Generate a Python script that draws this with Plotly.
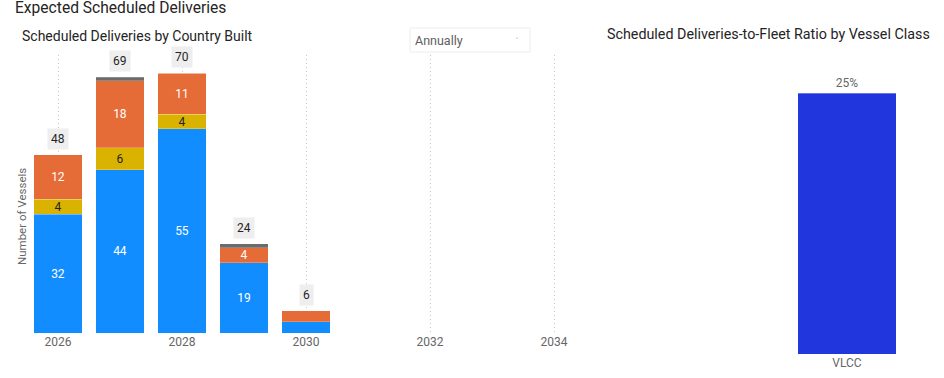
import plotly.graph_objects as go

W, H = 944, 378

years = [2026, 2027, 2028, 2029, 2030]
blue_vals = [32, 44, 55, 19, 3]
yellow_vals = [4, 6, 4, 0, 0]
orange_vals = [12, 18, 11, 4, 3]
grey_vals = [0, 1, 0, 1, 0]
totals = [48, 69, 70, 24, 6]
year_ticks = [2026, 2028, 2030, 2032, 2034]

ratio_classes = ["VLCC"]
ratio_vals = [0.25]

FONT = "Roboto, 'Noto Sans', 'DejaVu Sans', sans-serif"

def px_x(p):
    return p / W

def px_y(p):
    return 1 - p / H

def lbl(vals, minv=4):
    return [str(v) if v >= minv else "" for v in vals]

fig = go.Figure()
series = [
    ("China", blue_vals, "#118DFF", "white"),
    ("Japan", yellow_vals, "#D9B300", "#252423"),
    ("South Korea", orange_vals, "#E66C37", "white"),
    ("Other", grey_vals, "#6B6B6B", "white"),
]
for name, vals, col, tcol in series:
    fig.add_trace(go.Bar(
        x=years, y=vals, name=name,
        marker=dict(color=col, line=dict(width=0.6, color="rgba(255,255,255,0.35)")),
        text=lbl(vals) if name != "Other" else [""] * len(vals),
        textposition="inside", insidetextanchor="middle",
        textfont=dict(color=tcol, size=12, family=FONT),
        textangle=0, cliponaxis=False, hoverinfo="skip",
        xaxis="x", yaxis="y",
    ))

fig.add_trace(go.Bar(
    x=ratio_classes, y=ratio_vals, width=[0.51],
    marker=dict(color="#2236DE", line=dict(width=0.8, color="rgba(255,255,255,0.4)")),
    text=[f"{v:.0%}" for v in ratio_vals], textposition="outside",
    textfont=dict(color="#666666", size=11, family=FONT), cliponaxis=False,
    xaxis="x2", yaxis="y2", showlegend=False, hoverinfo="skip",
))

annotations = []
for yr, t in zip(years, totals):
    annotations.append(dict(
        x=yr, y=t, xref="x", yref="y", text=str(t), showarrow=False,
        yanchor="bottom", yshift=5, bgcolor="#EEEEEE", borderpad=3,
        font=dict(size=12, color="#252423", family=FONT),
    ))

annotations += [
    dict(x=px_x(13), y=px_y(8), xref="paper", yref="paper", xanchor="left", yanchor="middle",
         text="Expected Scheduled Deliveries", showarrow=False,
         font=dict(size=15.6, color="#252423", family=FONT)),
    dict(x=px_x(20), y=px_y(36), xref="paper", yref="paper", xanchor="left", yanchor="middle",
         text="Scheduled Deliveries by Country Built", showarrow=False,
         font=dict(size=14, color="#252423", family=FONT)),
    dict(x=px_x(605), y=px_y(34), xref="paper", yref="paper", xanchor="left", yanchor="middle",
         text="Scheduled Deliveries-to-Fleet Ratio by Vessel Class", showarrow=False,
         font=dict(size=14.3, color="#252423", family=FONT)),
    dict(x=px_x(22), y=px_y(217), xref="paper", yref="paper", xanchor="center", yanchor="middle",
         text="Number of Vessels", textangle=-90, showarrow=False,
         font=dict(size=11.5, color="#666666", family=FONT)),
    dict(x=px_x(413), y=px_y(40), xref="paper", yref="paper", xanchor="left", yanchor="middle",
         text="Annually", showarrow=False,
         font=dict(size=12.5, color="#605E5C", family=FONT)),
    dict(x=px_x(517), y=px_y(41), xref="paper", yref="paper", xanchor="center", yanchor="middle",
         text="˅", showarrow=False,
         font=dict(size=7, color="#605E5C", family=FONT)),
]

shapes = [
    dict(type="rect", xref="paper", yref="paper", x0=px_x(410), x1=px_x(530), y0=px_y(52), y1=px_y(28),
         line=dict(color="#EDEDED", width=1), fillcolor="rgba(255,255,255,0)"),
]

fig.update_layout(
    width=W, height=H, margin=dict(l=0, r=0, t=0, b=0),
    paper_bgcolor="white", plot_bgcolor="white",
    barmode="stack", bargap=0.21, showlegend=False,
    font=dict(family=FONT),
    uniformtext=dict(minsize=12, mode="show"),
    xaxis=dict(domain=[px_x(27), px_x(585)], range=[2025.5, 2034.5], tickvals=year_ticks,
               ticktext=[str(y) for y in year_ticks], showgrid=True, griddash="1px,3px",
               gridcolor="#C8C8C8", gridwidth=1, zeroline=False, showline=False,
               ticks="", tickfont=dict(size=12, color="#666666", family=FONT), automargin=False),
    yaxis=dict(domain=[px_y(333), px_y(55)], range=[0, 278 / 3.71], showgrid=False,
               showticklabels=False, zeroline=False, showline=False, automargin=False),
    xaxis2=dict(domain=[px_x(750), 1.0], anchor="y2", type="category",
                tickfont=dict(size=12, color="#666666", family=FONT), showgrid=False,
                showline=False, ticks="", automargin=False),
    yaxis2=dict(domain=[px_y(354), px_y(80)], anchor="x2", range=[0, 0.25 * 274 / 261],
                showgrid=False, showticklabels=False, zeroline=False, showline=False, automargin=False),
    annotations=annotations, shapes=shapes,
)

fig.write_html("out.html", config={"displayModeBar": False},
               post_script="document.body.style.margin='0';document.body.style.padding='0';")
